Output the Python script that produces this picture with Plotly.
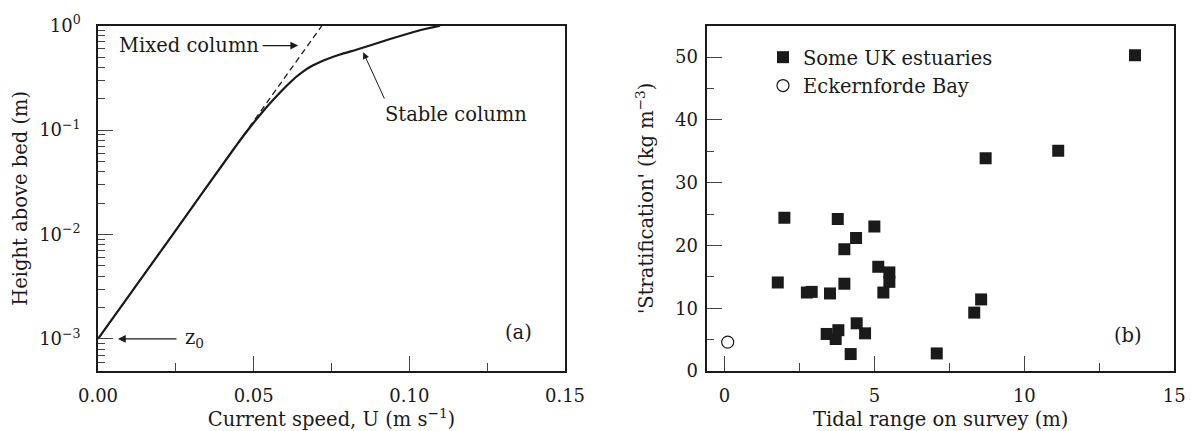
import plotly.graph_objects as go

# ---------------- Panel (a): velocity profiles ----------------
mixed_u = [0.0, 0.0719]
mixed_z = [0.001, 1.0]
stable_u = [0.0, 0.024, 0.04337, 0.04594, 0.04851, 0.05108, 0.05365, 0.05622, 0.05879,
            0.06136, 0.06361, 0.06586, 0.06810, 0.07067, 0.07324, 0.07774, 0.08320,
            0.08834, 0.09380, 0.09926, 0.10440, 0.10986]
stable_z = [0.001, 0.01, 0.0645, 0.0822, 0.1036, 0.1291, 0.1593, 0.1942, 0.2343,
            0.2795, 0.3226, 0.3640, 0.4022, 0.4393, 0.4746, 0.5297, 0.5916,
            0.6606, 0.7459, 0.8328, 0.9196, 1.0]

# ---------------- Panel (b): stratification vs tidal range ----------------
uk_range = [13.69, 8.71, 11.13, 2.0, 3.78, 5.0, 4.39, 4.0, 5.13, 5.5, 5.5, 1.78, 4.0,
            2.75, 2.91, 3.52, 5.3, 8.56, 8.33, 4.41, 3.8, 3.41, 3.71, 4.69, 4.21, 7.08]
uk_strat = [50.3, 33.9, 35.1, 24.4, 24.2, 23.0, 21.2, 19.4, 16.6, 15.7, 14.2, 14.1, 13.9,
            12.5, 12.6, 12.35, 12.5, 11.4, 9.3, 7.6, 6.5, 5.9, 5.1, 6.0, 2.7, 2.8]
eck_range = [0.11]
eck_strat = [4.6]

# tick labels
a_x_ticks = [0.0, 0.05, 0.10, 0.15]
a_y_ticks = [0.001, 0.01, 0.1, 1.0]
a_y_ticktext = ["10<sup>−3</sup>", "10<sup>−2</sup>", "10<sup>−1</sup>", "10<sup>0</sup>"]
b_x_ticks = [0, 5, 10, 15]
b_y_ticks = [0, 10, 20, 30, 40, 50]

FONT = "DejaVu Serif"
INK = "#1a1a1a"
TXT = 19.5

fig = go.Figure()
fig.add_trace(go.Scatter(x=mixed_u, y=mixed_z, mode="lines", showlegend=False,
                         line=dict(color=INK, width=1.3, dash="6px,4px"),
                         xaxis="x", yaxis="y"))
fig.add_trace(go.Scatter(x=stable_u, y=stable_z, mode="lines", showlegend=False,
                         line=dict(color=INK, width=2.2, shape="spline", smoothing=0.5),
                         xaxis="x", yaxis="y"))
fig.add_trace(go.Scatter(x=uk_range, y=uk_strat, mode="markers", name="Some UK estuaries",
                         legendgroup="uk",
                         marker=dict(symbol="square", size=12, color=INK),
                         xaxis="x2", yaxis="y2"))
fig.add_trace(go.Scatter(x=eck_range, y=eck_strat, mode="markers", name="Eckernforde Bay",
                         legendgroup="eck",
                         marker=dict(symbol="circle-open", size=12, color=INK, line=dict(width=1.2)),
                         xaxis="x2", yaxis="y2"))

minor_log = [m * 10 ** e for e in (-4, -3, -2, -1) for m in range(2, 10)]

common = dict(showline=True, linecolor=INK, linewidth=1.5, mirror=True,
              ticks="inside", ticklen=15, tickwidth=1.2, tickcolor="#444",
              showgrid=False, zeroline=False,
              tickfont=dict(family=FONT, size=18, color=INK),
              automargin=False)

title_font = dict(family=FONT, size=TXT, color=INK)
ydom = [(431 - 371) / 431, (431 - 25.7) / 431]

fig.update_layout(
    width=1191, height=431,
    margin=dict(l=0, r=0, t=0, b=0),
    paper_bgcolor="white", plot_bgcolor="white",
    font=dict(family=FONT, size=18, color=INK),
    xaxis=dict(domain=[98 / 1191, 565 / 1191], range=[0, 0.15], anchor="y",
               tickvals=a_x_ticks, tickformat=".2f", ticklabelstandoff=8,
               minor=dict(ticks="inside", ticklen=8, tickcolor="#444", dtick=0.025, tick0=0),
               title=dict(text="Current speed, U (m s<sup>−1</sup>)", standoff=8,
                          font=title_font),
               **common),
    yaxis=dict(domain=ydom, type="log", range=[-3.307, 0], anchor="x",
               tickvals=a_y_ticks, ticktext=a_y_ticktext, ticklabelstandoff=12,
               minor=dict(ticks="inside", ticklen=7, tickcolor="#444", tickmode="array",
                          tickvals=minor_log),
               title=dict(text="Height above bed (m)", standoff=6, font=title_font),
               **common),
    xaxis2=dict(domain=[707.3 / 1191, 1174.3 / 1191], range=[-0.57, 15], anchor="y2",
                tickvals=b_x_ticks, ticklabelstandoff=8,
                minor=dict(ticks="inside", ticklen=8, tickcolor="#444", dtick=2.5, tick0=0),
                title=dict(text="Tidal range on survey (m)", standoff=8, font=title_font),
                **common),
    yaxis2=dict(domain=ydom, range=[0, 55], anchor="x2",
                tickvals=b_y_ticks, ticklabelstandoff=4,
                minor=dict(ticks="inside", ticklen=7, tickcolor="#444", dtick=5, tick0=0),
                title=dict(text="'Stratification' (kg m<sup>−3</sup>)", standoff=16,
                           font=title_font),
                **common),
    legend=dict(x=763 / 1191, xanchor="left", y=(431 - 38) / 431, yanchor="top",
                xref="paper", yref="paper",
                bgcolor="rgba(0,0,0,0)", tracegroupgap=0,
                font=dict(family=FONT, size=TXT, color=INK)),
)

ann_font = dict(family=FONT, size=TXT, color=INK)
annotations = [
    # Mixed column label + arrow
    dict(text="Mixed column", x=0.0522, y=-0.19, xref="x", yref="y", xanchor="right",
         yanchor="middle", showarrow=False, font=ann_font),
    dict(text="", x=0.0643, y=-0.19, ax=0.0524, ay=-0.19, xref="x", yref="y",
         axref="x", ayref="y", showarrow=True, arrowhead=2, arrowsize=1.3,
         arrowwidth=1.2, arrowcolor=INK),
    # Stable column label + arrow
    dict(text="Stable column", x=0.0915, y=-0.853, xref="x", yref="y", xanchor="left",
         yanchor="middle", showarrow=False, font=ann_font),
    dict(text="", x=0.0852, y=-0.255, ax=0.0922, ay=-0.712, xref="x", yref="y",
         axref="x", ayref="y", showarrow=True, arrowhead=2, arrowsize=1.3,
         arrowwidth=1.0, arrowcolor=INK),
    # z0 label + arrow
    dict(text="z<sub>0</sub>", x=0.0272, y=-3.0, xref="x", yref="y", xanchor="left",
         yanchor="middle", showarrow=False, font=ann_font),
    dict(text="", x=0.0064, y=-3.0, ax=0.0257, ay=-3.0, xref="x", yref="y",
         axref="x", ayref="y", showarrow=True, arrowhead=2, arrowsize=1.3,
         arrowwidth=1.2, arrowcolor=INK),
    dict(text="(a)", x=0.135, y=-2.943, xref="x", yref="y", showarrow=False, font=ann_font),
    dict(text="(b)", x=13.46, y=5.7, xref="x2", yref="y2", showarrow=False, font=ann_font),
]
fig.update_layout(annotations=annotations)

fig.write_html("out.html")
